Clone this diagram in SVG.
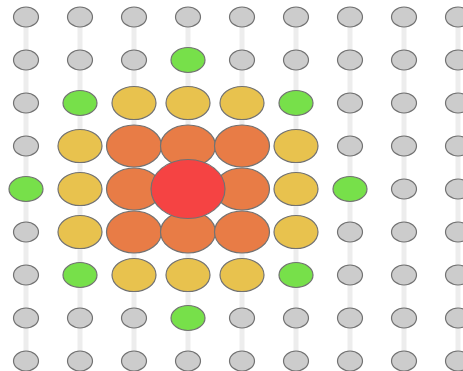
<svg xmlns="http://www.w3.org/2000/svg" width="463" height="371" viewBox="0 0 463 371">
<style>
.e{stroke:#ededed;stroke-width:5;fill:none}
.n ellipse{stroke:#727272;stroke-width:1.2}
.g ellipse{fill:#cccccc;rx:12.5px;ry:10px}
.gr ellipse{fill:#77e04a;rx:17px;ry:12.5px}
.y ellipse{fill:#e8c24e;rx:22px;ry:16.5px}
.o ellipse{fill:#e87c46;rx:27.5px;ry:21px}
.r ellipse{fill:#f54343;rx:37px;ry:29.5px}
</style>
<rect width="463" height="371" fill="#ffffff"/>
<g id="connectors">
<line class="e" x1="26" y1="17" x2="26" y2="361"/>
<line class="e" x1="80" y1="17" x2="80" y2="361"/>
<line class="e" x1="134" y1="17" x2="134" y2="361"/>
<line class="e" x1="188" y1="17" x2="188" y2="361"/>
<line class="e" x1="242" y1="17" x2="242" y2="361"/>
<line class="e" x1="296" y1="17" x2="296" y2="361"/>
<line class="e" x1="350" y1="17" x2="350" y2="361"/>
<line class="e" x1="404" y1="17" x2="404" y2="361"/>
<line class="e" x1="458" y1="17" x2="458" y2="361"/>
</g>
<g id="gray-nodes">
<g id="n-0-0" class="n g"><ellipse cx="26" cy="17"/></g>
<g id="n-1-0" class="n g"><ellipse cx="80" cy="17"/></g>
<g id="n-2-0" class="n g"><ellipse cx="134" cy="17"/></g>
<g id="n-3-0" class="n g"><ellipse cx="188" cy="17"/></g>
<g id="n-4-0" class="n g"><ellipse cx="242" cy="17"/></g>
<g id="n-5-0" class="n g"><ellipse cx="296" cy="17"/></g>
<g id="n-6-0" class="n g"><ellipse cx="350" cy="17"/></g>
<g id="n-7-0" class="n g"><ellipse cx="404" cy="17"/></g>
<g id="n-8-0" class="n g"><ellipse cx="458" cy="17"/></g>
<g id="n-0-1" class="n g"><ellipse cx="26" cy="60"/></g>
<g id="n-1-1" class="n g"><ellipse cx="80" cy="60"/></g>
<g id="n-2-1" class="n g"><ellipse cx="134" cy="60"/></g>
<g id="n-4-1" class="n g"><ellipse cx="242" cy="60"/></g>
<g id="n-5-1" class="n g"><ellipse cx="296" cy="60"/></g>
<g id="n-6-1" class="n g"><ellipse cx="350" cy="60"/></g>
<g id="n-7-1" class="n g"><ellipse cx="404" cy="60"/></g>
<g id="n-8-1" class="n g"><ellipse cx="458" cy="60"/></g>
<g id="n-0-2" class="n g"><ellipse cx="26" cy="103"/></g>
<g id="n-6-2" class="n g"><ellipse cx="350" cy="103"/></g>
<g id="n-7-2" class="n g"><ellipse cx="404" cy="103"/></g>
<g id="n-8-2" class="n g"><ellipse cx="458" cy="103"/></g>
<g id="n-0-3" class="n g"><ellipse cx="26" cy="146"/></g>
<g id="n-6-3" class="n g"><ellipse cx="350" cy="146"/></g>
<g id="n-7-3" class="n g"><ellipse cx="404" cy="146"/></g>
<g id="n-8-3" class="n g"><ellipse cx="458" cy="146"/></g>
<g id="n-7-4" class="n g"><ellipse cx="404" cy="189"/></g>
<g id="n-8-4" class="n g"><ellipse cx="458" cy="189"/></g>
<g id="n-0-5" class="n g"><ellipse cx="26" cy="232"/></g>
<g id="n-6-5" class="n g"><ellipse cx="350" cy="232"/></g>
<g id="n-7-5" class="n g"><ellipse cx="404" cy="232"/></g>
<g id="n-8-5" class="n g"><ellipse cx="458" cy="232"/></g>
<g id="n-0-6" class="n g"><ellipse cx="26" cy="275"/></g>
<g id="n-6-6" class="n g"><ellipse cx="350" cy="275"/></g>
<g id="n-7-6" class="n g"><ellipse cx="404" cy="275"/></g>
<g id="n-8-6" class="n g"><ellipse cx="458" cy="275"/></g>
<g id="n-0-7" class="n g"><ellipse cx="26" cy="318"/></g>
<g id="n-1-7" class="n g"><ellipse cx="80" cy="318"/></g>
<g id="n-2-7" class="n g"><ellipse cx="134" cy="318"/></g>
<g id="n-4-7" class="n g"><ellipse cx="242" cy="318"/></g>
<g id="n-5-7" class="n g"><ellipse cx="296" cy="318"/></g>
<g id="n-6-7" class="n g"><ellipse cx="350" cy="318"/></g>
<g id="n-7-7" class="n g"><ellipse cx="404" cy="318"/></g>
<g id="n-8-7" class="n g"><ellipse cx="458" cy="318"/></g>
<g id="n-0-8" class="n g"><ellipse cx="26" cy="361"/></g>
<g id="n-1-8" class="n g"><ellipse cx="80" cy="361"/></g>
<g id="n-2-8" class="n g"><ellipse cx="134" cy="361"/></g>
<g id="n-3-8" class="n g"><ellipse cx="188" cy="361"/></g>
<g id="n-4-8" class="n g"><ellipse cx="242" cy="361"/></g>
<g id="n-5-8" class="n g"><ellipse cx="296" cy="361"/></g>
<g id="n-6-8" class="n g"><ellipse cx="350" cy="361"/></g>
<g id="n-7-8" class="n g"><ellipse cx="404" cy="361"/></g>
<g id="n-8-8" class="n g"><ellipse cx="458" cy="361"/></g>
</g>
<g id="green-nodes">
<g id="n-3-1" class="n gr"><ellipse cx="188" cy="60"/></g>
<g id="n-1-2" class="n gr"><ellipse cx="80" cy="103"/></g>
<g id="n-5-2" class="n gr"><ellipse cx="296" cy="103"/></g>
<g id="n-0-4" class="n gr"><ellipse cx="26" cy="189"/></g>
<g id="n-6-4" class="n gr"><ellipse cx="350" cy="189"/></g>
<g id="n-1-6" class="n gr"><ellipse cx="80" cy="275"/></g>
<g id="n-5-6" class="n gr"><ellipse cx="296" cy="275"/></g>
<g id="n-3-7" class="n gr"><ellipse cx="188" cy="318"/></g>
</g>
<g id="yellow-nodes">
<g id="n-2-2" class="n y"><ellipse cx="134" cy="103"/></g>
<g id="n-3-2" class="n y"><ellipse cx="188" cy="103"/></g>
<g id="n-4-2" class="n y"><ellipse cx="242" cy="103"/></g>
<g id="n-1-3" class="n y"><ellipse cx="80" cy="146"/></g>
<g id="n-5-3" class="n y"><ellipse cx="296" cy="146"/></g>
<g id="n-1-4" class="n y"><ellipse cx="80" cy="189"/></g>
<g id="n-5-4" class="n y"><ellipse cx="296" cy="189"/></g>
<g id="n-1-5" class="n y"><ellipse cx="80" cy="232"/></g>
<g id="n-5-5" class="n y"><ellipse cx="296" cy="232"/></g>
<g id="n-2-6" class="n y"><ellipse cx="134" cy="275"/></g>
<g id="n-3-6" class="n y"><ellipse cx="188" cy="275"/></g>
<g id="n-4-6" class="n y"><ellipse cx="242" cy="275"/></g>
</g>
<g id="orange-nodes">
<g id="n-2-3" class="n o"><ellipse cx="134" cy="146"/></g>
<g id="n-3-3" class="n o"><ellipse cx="188" cy="146"/></g>
<g id="n-4-3" class="n o"><ellipse cx="242" cy="146"/></g>
<g id="n-2-4" class="n o"><ellipse cx="134" cy="189"/></g>
<g id="n-4-4" class="n o"><ellipse cx="242" cy="189"/></g>
<g id="n-2-5" class="n o"><ellipse cx="134" cy="232"/></g>
<g id="n-3-5" class="n o"><ellipse cx="188" cy="232"/></g>
<g id="n-4-5" class="n o"><ellipse cx="242" cy="232"/></g>
</g>
<g id="n-3-4" class="n r"><ellipse cx="188" cy="189"/></g>
</svg>
